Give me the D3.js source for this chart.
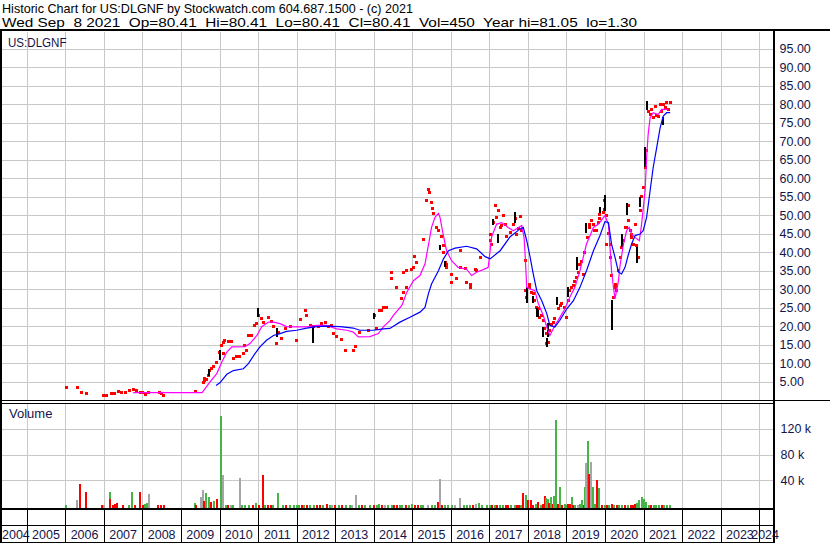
<!DOCTYPE html>
<html><head><meta charset="utf-8">
<script src="https://cdn.jsdelivr.net/npm/d3@7"></script>
<style>
html,body{margin:0;padding:0;background:#fff;}
svg{display:block;}
text{font-family:Arial,"Liberation Sans",sans-serif;}
</style>
</head><body>
<svg id="c" width="830" height="543"></svg>
<script>
// ---------------- DATA ----------------
const titleLine1 = "Historic Chart for US:DLGNF by Stockwatch.com 604.687.1500 - (c) 2021";
const titleLine2 = "Wed Sep  8 2021  Op=80.41  Hi=80.41  Lo=80.41  Cl=80.41  Vol=450  Year hi=81.05  lo=1.30";
const symbolLabel = "US:DLGNF";
const volumeLabel = "Volume";
const years = d3.range(2004, 2025);            // year bands on the time axis
const priceTicks = d3.range(5, 100, 5);         // 5.00 ... 95.00
const volumeTicks = [40000, 80000, 120000];     // 40 k, 80 k, 120 k

// closing prices [decimal year, price]
const pricePoints = [
 [2006.04,3.3],[2006.32,3.4],[2006.41,2.15],[2006.56,1.7],[2007.00,1.27],[2007.06,1.4],[2007.20,1.7],[2007.27,1.9],
 [2007.38,2.3],[2007.45,2.0],[2007.55,2.2],[2007.66,2.5],[2007.78,2.9],[2007.85,2.5],[2007.94,2.2],[2008.01,2.1],
 [2008.09,1.5],[2008.17,2.0],[2008.44,2.0],[2008.50,1.7],[2008.56,1.27],[2009.39,2.4],[2009.58,4.8],[2009.60,5.4],
 [2009.62,5.8],[2009.67,5.6],[2009.71,6.6],[2009.75,8.0],[2009.80,8.6],[2009.84,9.0],[2009.93,10.3],[2010.01,13.0],
 [2010.06,14.8],[2010.10,15.7],[2010.10,12.7],[2010.14,16.2],[2010.23,16.0],[2010.32,16.0],[2010.36,11.2],[2010.45,11.7],
 [2010.53,11.7],[2010.62,12.7],[2010.66,14.8],[2010.71,13.5],[2010.75,17.5],[2010.84,17.5],[2010.92,20.2],[2010.97,20.7],
 [2011.01,22.9],[2011.09,22.0],[2011.15,21.1],[2011.27,22.4],[2011.35,21.4],[2011.40,19.8],[2011.48,15.4],[2011.53,18.4],
 [2011.61,16.6],[2011.70,19.3],[2011.83,19.9],[2012.00,16.2],[2012.09,21.7],[2012.22,24.3],[2012.26,22.9],[2012.35,20.2],
 [2012.43,19.8],[2012.56,19.8],[2012.65,20.8],[2012.74,21.1],[2012.82,19.8],[2012.91,20.2],[2012.95,18.0],[2013.04,17.2],
 [2013.17,16.4],[2013.28,13.5],[2013.47,13.5],[2013.52,14.4],[2013.64,18.4],[2013.86,18.9],[2014.03,22.9],[2014.08,19.3],
 [2014.16,24.3],[2014.21,24.3],[2014.25,25.1],[2014.34,25.1],[2014.47,34.6],[2014.47,32.8],[2014.60,30.5],[2014.73,27.4],
 [2014.77,29.2],[2014.77,34.6],[2014.86,35.0],[2014.86,30.5],[2014.99,35.2],[2015.03,35.9],[2015.07,38.8],[2015.12,37.3],
 [2015.29,43.4],[2015.38,53.9],[2015.42,57.0],[2015.44,56.1],[2015.49,53.4],[2015.52,51.8],[2015.55,50.5],[2015.63,46.7],
 [2015.68,45.8],[2015.76,44.2],[2015.81,41.8],[2015.81,40.0],[2015.85,37.3],[2015.89,36.8],[2015.89,35.9],[2016.02,34.1],
 [2016.02,31.9],[2016.15,32.8],[2016.24,40.4],[2016.24,36.0],[2016.37,35.6],[2016.41,31.9],[2016.50,31.4],[2016.50,30.5],
 [2016.63,35.4],[2016.67,35.0],[2016.76,38.6],[2017.02,44.9],[2017.02,43.1],[2017.06,42.2],[2017.10,48.0],[2017.15,52.5],
 [2017.19,49.4],[2017.23,51.2],[2017.28,46.7],[2017.32,47.2],[2017.36,49.9],[2017.41,47.6],[2017.45,44.2],[2017.54,45.4],
 [2017.62,47.6],[2017.67,49.0],[2017.71,44.9],[2017.75,46.3],[2017.80,49.6],[2017.84,46.0],[2017.93,29.6],[2017.93,37.7],
 [2017.97,27.8],[2018.05,30.5],[2018.05,31.4],[2018.10,29.0],[2018.14,28.8],[2018.18,27.0],[2018.23,25.1],[2018.27,24.7],
 [2018.31,22.4],[2018.36,23.0],[2018.40,21.6],[2018.44,19.5],[2018.49,18.0],[2018.49,15.3],[2018.53,15.7],[2018.57,18.9],
 [2018.62,20.5],[2018.66,21.1],[2018.70,22.0],[2018.79,24.7],[2018.84,25.5],[2018.88,26.1],[2018.96,25.1],[2019.01,22.4],
 [2019.05,27.0],[2019.09,29.6],[2019.13,30.5],[2019.18,31.0],[2019.22,32.0],[2019.27,33.2],[2019.31,34.6],[2019.35,36.8],
 [2019.40,37.5],[2019.44,34.1],[2019.48,40.0],[2019.55,44.0],[2019.61,46.7],[2019.61,47.6],[2019.66,48.5],[2019.70,47.6],
 [2019.74,46.0],[2019.78,45.8],[2019.83,48.0],[2019.87,49.0],[2019.87,50.3],[2019.96,50.7],[2020.00,51.6],[2020.00,53.9],
 [2020.04,49.9],[2020.04,42.2],[2020.08,45.0],[2020.13,42.2],[2020.13,38.6],[2020.17,33.7],[2020.22,27.8],[2020.26,30.5],
 [2020.26,31.4],[2020.30,29.6],[2020.35,35.0],[2020.39,38.6],[2020.43,41.3],[2020.48,43.1],[2020.52,46.7],[2020.56,46.7],
 [2020.60,48.5],[2020.60,52.5],[2020.65,46.0],[2020.69,44.9],[2020.69,44.0],[2020.73,42.2],[2020.78,47.6],[2020.82,41.8],
 [2020.86,38.6],[2020.91,51.2],[2020.95,55.0],[2020.99,57.5],[2021.04,62.9],[2021.08,67.4],[2021.12,78.1],[2021.17,77.2],
 [2021.20,78.5],[2021.25,76.3],[2021.30,79.5],[2021.34,77.0],[2021.38,76.8],[2021.43,79.9],[2021.47,78.0],[2021.51,79.9],
 [2021.56,79.0],[2021.60,80.5],[2021.66,78.6],[2021.69,80.4]
];

// wide-range bars [decimal year, low, high]
const rangeBars = [
 [2009.73,6.5,8.5],[2010.00,11,13.5],[2011.01,22.5,25],[2011.48,17,19.5],[2012.43,15.4,20],[2014.02,22,23.5],
 [2015.72,40.5,42],[2015.85,35.9,37.5],[2017.09,47.3,49],[2017.22,42.5,45],[2017.67,48,51],[2017.97,26.2,30.6],
 [2018.14,26.2,28.2],[2018.23,22.5,25],[2018.27,22.5,24.3],[2018.40,17.1,19.8],[2018.49,14.4,16.8],[2018.51,17.2,21],
 [2018.75,25.7,28],[2019.05,28,30.6],[2019.27,35.2,38.7],[2019.52,45.1,47.8],[2019.87,50.5,52.2],[2020.00,51.2,55.5],
 [2020.19,18.9,27],[2020.43,41.3,45],[2020.57,50,53.2],[2020.82,37,41.4],[2020.91,52.3,55],[2021.04,63,68.4],
 [2021.08,78.4,81],[2021.51,74.4,76.6]
];

// short moving average (magenta) [decimal year, value]
const maShort = [
 [2007.76,2.07],[2009.55,2.07],[2009.75,4.9],[2009.93,7.2],[2010.06,10.3],[2010.19,13.0],[2010.32,14.4],[2010.66,14.5],
 [2010.79,15.3],[2010.97,17.5],[2011.09,19.8],[2011.27,21.1],[2011.40,21.1],[2011.57,20.7],[2011.74,19.9],[2012.00,19.8],
 [2012.26,19.8],[2012.52,20.2],[2012.78,20.2],[2013.04,19.3],[2013.30,18.9],[2013.47,18.4],[2013.60,17.1],[2013.90,17.2],
 [2014.12,18.0],[2014.25,19.8],[2014.42,21.5],[2014.51,22.9],[2014.73,25.6],[2014.86,29.2],[2015.03,32.3],[2015.20,33.7],
 [2015.33,36.8],[2015.44,43.1],[2015.50,46.7],[2015.59,49.4],[2015.68,50.5],[2015.72,49.4],[2015.79,45.4],[2015.89,40.4],
 [2016.02,37.7],[2016.19,35.9],[2016.41,35.4],[2016.54,33.7],[2016.67,34.6],[2016.84,35.3],[2016.97,35.9],[2017.02,40.4],
 [2017.06,44.2],[2017.19,47.6],[2017.32,48.0],[2017.49,46.7],[2017.62,45.8],[2017.84,47.2],[2017.90,44.0],[2017.93,39.0],
 [2017.97,30.5],[2018.05,30.1],[2018.18,29.6],[2018.27,26.1],[2018.40,22.9],[2018.49,19.8],[2018.57,17.5],[2018.68,19.8],
 [2018.83,22.4],[2018.96,24.7],[2019.09,27.9],[2019.22,30.5],[2019.35,35.0],[2019.52,42.2],[2019.70,46.7],[2019.83,47.6],
 [2020.00,49.9],[2020.09,47.5],[2020.13,41.3],[2020.17,35.0],[2020.22,30.5],[2020.26,27.4],[2020.30,29.6],[2020.35,32.3],
 [2020.39,36.4],[2020.48,42.2],[2020.56,45.8],[2020.63,46.7],[2020.69,44.9],[2020.78,44.0],[2020.89,43.1],[2020.95,47.6],
 [2021.04,56.6],[2021.08,65.6],[2021.12,71.9],[2021.17,76.3],[2021.25,77.7],[2021.38,77.2],[2021.47,78.6],[2021.64,78.6]
];

// long moving average (blue) [decimal year, value]
const maLong = [
 [2009.91,4.0],[2010.01,4.7],[2010.19,7.0],[2010.36,8.0],[2010.62,8.5],[2010.75,9.9],[2010.92,12.6],[2011.05,14.4],
 [2011.22,16.2],[2011.40,17.5],[2011.57,18.0],[2011.74,18.6],[2012.00,18.9],[2012.26,19.5],[2012.52,19.9],[2012.78,20.0],
 [2013.13,19.9],[2013.47,19.5],[2013.64,18.9],[2013.99,18.9],[2014.25,19.3],[2014.42,19.4],[2014.68,21.1],[2014.94,22.4],
 [2015.20,23.8],[2015.33,25.1],[2015.42,28.8],[2015.50,31.4],[2015.68,35.0],[2015.81,38.2],[2015.94,40.4],[2016.11,41.1],
 [2016.41,41.6],[2016.67,40.9],[2016.89,38.8],[2017.02,38.2],[2017.28,40.4],[2017.54,44.2],[2017.80,46.3],[2017.88,46.7],
 [2017.97,43.1],[2018.05,39.1],[2018.14,34.1],[2018.23,29.6],[2018.36,26.9],[2018.49,23.4],[2018.57,20.2],[2018.70,19.8],
 [2018.83,21.6],[2019.01,24.7],[2019.18,26.9],[2019.35,30.5],[2019.52,35.0],[2019.70,40.4],[2019.87,44.5],[2020.00,48.3],
 [2020.09,48.0],[2020.17,42.2],[2020.26,38.6],[2020.35,34.6],[2020.43,34.1],[2020.52,35.9],[2020.60,39.1],[2020.69,42.2],
 [2020.78,44.5],[2020.91,44.9],[2020.99,45.8],[2021.08,49.4],[2021.17,56.6],[2021.25,62.9],[2021.34,68.2],[2021.43,73.6],
 [2021.51,76.8],[2021.60,77.7],[2021.69,77.7]
];

// volume [decimal year, shares, colour code: g=up, r=down, n=unchanged]
const volumeBars = [
 [2006.01,1000,"g"],[2006.31,9300,"n"],[2006.37,34800,"r"],[2006.53,21800,"r"],[2006.96,1000,"r"],[2007.01,1500,"n"],
 [2007.15,21800,"g"],[2007.17,10900,"r"],[2007.23,1000,"r"],[2007.30,2600,"r"],[2007.35,4700,"r"],[2007.49,1000,"r"],
 [2007.66,1500,"g"],[2007.74,21800,"g"],[2007.82,1000,"r"],[2007.93,21800,"r"],[2008.01,1000,"r"],[2008.07,2600,"g"],
 [2008.11,4200,"g"],[2008.18,18200,"n"],[2008.40,1500,"r"],[2008.48,1000,"r"],[2008.56,1500,"r"],[2009.36,4200,"g"],
 [2009.39,1000,"r"],[2009.52,14000,"n"],[2009.57,24900,"n"],[2009.61,7800,"r"],[2009.66,20300,"g"],[2009.73,13500,"g"],
 [2009.77,6200,"r"],[2009.87,8300,"g"],[2009.94,10400,"r"],[2010.05,140000,"g"],[2010.10,48300,"n"],[2010.16,2000,"g"],
 [2010.21,1600,"r"],[2010.31,1000,"n"],[2010.35,1600,"g"],[2010.53,44200,"n"],[2010.58,1000,"g"],[2010.65,1000,"g"],
 [2010.76,1000,"g"],[2010.87,1000,"r"],[2010.95,4200,"g"],[2011.03,1500,"r"],[2011.12,48300,"r"],[2011.17,1500,"g"],
 [2011.26,1000,"r"],[2011.34,1500,"r"],[2011.39,1000,"g"],[2011.53,19700,"g"],[2011.64,1000,"g"],[2011.72,1000,"r"],
 [2011.83,1000,"g"],[2011.92,1500,"g"],[2012.00,1000,"g"],[2012.06,1000,"g"],[2012.13,1500,"r"],[2012.20,1000,"g"],
 [2012.27,1000,"r"],[2012.35,1000,"g"],[2012.44,1500,"g"],[2012.54,1000,"r"],[2012.60,1000,"r"],[2012.68,1500,"g"],
 [2012.79,3600,"r"],[2012.87,1000,"g"],[2012.93,1000,"n"],[2013.00,1500,"r"],[2013.09,1000,"g"],[2013.18,1000,"r"],
 [2013.27,1500,"g"],[2013.38,1000,"g"],[2013.45,1000,"n"],[2013.53,17100,"n"],[2013.62,1500,"g"],[2013.70,1000,"r"],
 [2013.78,1000,"g"],[2013.90,1500,"g"],[2014.00,1000,"r"],[2014.08,1500,"g"],[2014.15,3100,"g"],[2014.22,1000,"r"],
 [2014.30,2000,"n"],[2014.38,1500,"g"],[2014.47,1000,"g"],[2014.53,1500,"r"],[2014.60,1000,"r"],[2014.67,1500,"g"],
 [2014.74,1000,"g"],[2014.83,1500,"r"],[2014.91,1000,"g"],[2014.99,3100,"g"],[2015.07,1500,"r"],[2015.15,1000,"r"],
 [2015.22,1500,"g"],[2015.29,1000,"g"],[2015.40,1000,"n"],[2015.50,1000,"g"],[2015.58,1500,"g"],[2015.68,6700,"r"],
 [2015.72,42000,"n"],[2015.76,1500,"r"],[2015.84,1000,"g"],[2015.93,1500,"g"],[2016.02,1000,"g"],[2016.10,1500,"n"],
 [2016.23,12500,"n"],[2016.33,1000,"g"],[2016.42,1500,"g"],[2016.50,1000,"g"],[2016.58,1500,"r"],[2016.66,3100,"n"],
 [2016.72,4700,"g"],[2016.80,1000,"g"],[2016.94,1000,"g"],[2017.01,1000,"g"],[2017.08,1500,"r"],[2017.14,1500,"g"],
 [2017.21,1000,"r"],[2017.28,1500,"g"],[2017.35,1000,"g"],[2017.42,1500,"r"],[2017.49,1000,"r"],[2017.56,1500,"g"],
 [2017.66,1000,"g"],[2017.72,1500,"r"],[2017.76,1000,"r"],[2017.81,1500,"g"],[2017.87,20800,"r"],[2017.96,17100,"g"],
 [2018.01,9300,"r"],[2018.09,9300,"r"],[2018.12,1500,"r"],[2018.20,3100,"g"],[2018.26,6700,"r"],[2018.34,2000,"g"],
 [2018.39,3100,"r"],[2018.45,15600,"r"],[2018.48,12500,"g"],[2018.53,10900,"g"],[2018.56,4200,"r"],[2018.61,14500,"g"],
 [2018.64,3100,"r"],[2018.67,15600,"g"],[2018.74,134000,"g"],[2018.78,3100,"r"],[2018.82,29100,"g"],[2018.89,1500,"r"],
 [2018.95,3100,"g"],[2019.00,2000,"g"],[2019.04,3100,"r"],[2019.08,3100,"r"],[2019.14,13500,"g"],[2019.18,2000,"r"],
 [2019.22,1500,"g"],[2019.30,1000,"n"],[2019.36,3100,"g"],[2019.41,9300,"g"],[2019.45,2000,"r"],[2019.49,30100,"g"],
 [2019.51,67500,"n"],[2019.55,101000,"g"],[2019.59,49900,"r"],[2019.63,68600,"n"],[2019.69,30100,"g"],[2019.75,3100,"g"],
 [2019.80,40500,"r"],[2019.84,28600,"g"],[2019.91,1500,"r"],[2019.99,2000,"g"],[2020.04,1500,"r"],[2020.10,2000,"g"],
 [2020.17,3100,"r"],[2020.23,1000,"g"],[2020.30,1500,"r"],[2020.37,1500,"g"],[2020.44,2000,"g"],[2020.52,1000,"r"],
 [2020.59,1500,"g"],[2020.67,1500,"r"],[2020.73,1500,"r"],[2020.79,3100,"r"],[2020.84,4700,"g"],[2020.89,9300,"g"],
 [2020.95,14500,"g"],[2021.00,10900,"g"],[2021.06,6700,"g"],[2021.13,2000,"g"],[2021.20,1000,"r"],[2021.27,1500,"g"],
 [2021.33,1000,"g"],[2021.40,1500,"g"],[2021.47,1000,"r"],[2021.54,1000,"g"],[2021.61,1000,"g"],[2021.68,1000,"g"]
];

// ---------------- DRAW ----------------
const svg = d3.select("#c");
const AXIS_X = 774;              // right axis line centre
const x = d3.scaleLinear().domain([2004.306, 2024.41]).range([0, 775]);
const yP = d3.scaleLinear().domain([0, 100]).range([400.2, 30.2]);
const yV = d3.scaleLinear().domain([0, 160000]).range([506, 403.3]);
const volColor = {g: "#46b446", r: "#ff0000", n: "#a6a6a6"};
const gridColor = "#c8c8c8";
const labelColor = "#14144a";
const crisp = v => Math.round(v) + 0.5;

svg.append("rect").attr("width", 830).attr("height", 543).attr("fill", "#fff");

// header
svg.append("text").attr("x", 2).attr("y", 13).attr("font-size", 13).attr("fill", "#000")
  .attr("textLength", 411).attr("lengthAdjust", "spacingAndGlyphs").text(titleLine1);
svg.append("text").attr("x", 2).attr("y", 26.5).attr("font-size", 13).attr("fill", "#000")
  .style("white-space", "pre")
  .attr("textLength", 635).attr("lengthAdjust", "spacingAndGlyphs").text(titleLine2);

const grid = svg.append("g").attr("shape-rendering", "crispEdges").attr("stroke", gridColor).attr("stroke-width", 1);
// price grid
grid.selectAll(".ph").data(priceTicks).join("line")
  .attr("x1", 2).attr("x2", AXIS_X - 1).attr("y1", d => crisp(yP(d))).attr("y2", d => crisp(yP(d)));
// volume grid
grid.selectAll(".vh").data(volumeTicks).join("line")
  .attr("x1", 2).attr("x2", AXIS_X - 1).attr("y1", d => crisp(yV(d))).attr("y2", d => crisp(yV(d)));
// vertical year grid
const yearLines = years.filter(y => x(y) > 2 && x(y) < AXIS_X - 1);
grid.selectAll(".pv").data(yearLines).join("line")
  .attr("x1", d => crisp(x(d))).attr("x2", d => crisp(x(d))).attr("y1", 31.5).attr("y2", 400);
grid.selectAll(".vv").data(yearLines).join("line")
  .attr("x1", d => crisp(x(d))).attr("x2", d => crisp(x(d))).attr("y1", 404).attr("y2", 508);

// panel labels
svg.append("text").attr("x", 8).attr("y", 47).attr("font-size", 12.5).attr("fill", labelColor)
  .attr("textLength", 58.5).attr("lengthAdjust", "spacingAndGlyphs").text(symbolLabel);
svg.append("text").attr("x", 9).attr("y", 417.5).attr("font-size", 13).attr("fill", labelColor).text(volumeLabel);

// price marks, clipped to panel
svg.append("clipPath").attr("id", "pclip").append("rect").attr("x", 2).attr("y", 31.5).attr("width", AXIS_X - 3).attr("height", 369);
const pg = svg.append("g").attr("clip-path", "url(#pclip)");
pg.append("g").attr("shape-rendering", "crispEdges").selectAll("rect").data(pricePoints).join("rect")
  .attr("x", d => Math.round(x(d[0]) - 1.5)).attr("y", d => Math.round(yP(d[1]) - 1.5))
  .attr("width", 3).attr("height", 3).attr("fill", "#ff0000");
pg.append("g").attr("shape-rendering", "crispEdges").selectAll("rect").data(rangeBars).join("rect")
  .attr("x", d => Math.round(x(d[0]) - 1)).attr("y", d => yP(d[2]))
  .attr("width", 2).attr("height", d => yP(d[1]) - yP(d[2])).attr("fill", "#000");
const line = d3.line().x(d => x(d[0])).y(d => yP(d[1]));
pg.append("path").datum(maShort).attr("d", line).attr("fill", "none").attr("stroke", "#ff00ff").attr("stroke-width", 1.2);
pg.append("path").datum(maLong).attr("d", line).attr("fill", "none").attr("stroke", "#0000ff").attr("stroke-width", 1.2);

// volume bars
svg.append("g").attr("shape-rendering", "crispEdges").selectAll("rect").data(volumeBars).join("rect")
  .attr("x", d => Math.round(x(d[0]) - 1)).attr("y", d => yV(d[1]))
  .attr("width", 2).attr("height", d => 509 - yV(d[1])).attr("fill", d => volColor[d[2]]);

// frame lines
const frame = svg.append("g").attr("stroke", "#000").attr("shape-rendering", "crispEdges");
frame.append("line").attr("x1", 0).attr("x2", 830).attr("y1", 30).attr("y2", 30).attr("stroke-width", 2);
frame.append("line").attr("x1", 1).attr("x2", 1).attr("y1", 30).attr("y2", 543).attr("stroke-width", 2);
frame.append("line").attr("x1", AXIS_X).attr("x2", AXIS_X).attr("y1", 30).attr("y2", 543).attr("stroke-width", 2);
frame.append("line").attr("x1", 0).attr("x2", 830).attr("y1", 400.5).attr("y2", 400.5).attr("stroke-width", 1);
frame.append("line").attr("x1", 0).attr("x2", AXIS_X).attr("y1", 403.5).attr("y2", 403.5).attr("stroke-width", 1);
frame.append("line").attr("x1", 0).attr("x2", AXIS_X).attr("y1", 509).attr("y2", 509).attr("stroke-width", 2);
frame.append("line").attr("x1", 0).attr("x2", AXIS_X).attr("y1", 525.5).attr("y2", 525.5).attr("stroke-width", 1);
frame.append("line").attr("x1", 0).attr("x2", AXIS_X).attr("y1", 542.5).attr("y2", 542.5).attr("stroke-width", 1);
// year separators
frame.selectAll(".ys").data(yearLines).join("line")
  .attr("x1", d => crisp(x(d))).attr("x2", d => crisp(x(d))).attr("y1", 509).attr("y2", 543).attr("stroke-width", 1);

// year labels (first band is partly off-chart: keep its label inside the visible part)
const xMax = 775;
svg.append("g").selectAll("text").data(years).join("text")
  .attr("x", d => {
    const a = x(d), b = x(d + 1);
    if (a < 0) return 2;
    const v1 = Math.min(b, xMax);
    return (a + v1) / 2 - (b > xMax ? 2 : 0);
  })
  .attr("text-anchor", d => x(d) < 0 ? "start" : "middle")
  .attr("y", 539).attr("font-size", 12.5).attr("fill", labelColor)
  .text(d => String(d));

// right axis labels
svg.append("g").selectAll("text").data(priceTicks).join("text")
  .attr("x", 779.5).attr("y", d => yP(d) + 4.3).attr("font-size", 12.5).attr("fill", labelColor)
  .text(d => d3.format(".2f")(d));
svg.append("g").selectAll("text").data(volumeTicks).join("text")
  .attr("x", 780.5).attr("y", d => yV(d) + 4.3).attr("font-size", 12.5).attr("fill", labelColor)
  .text(d => (d / 1000) + " k");
</script>
</body></html>
